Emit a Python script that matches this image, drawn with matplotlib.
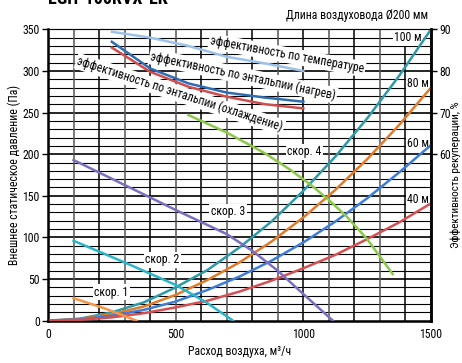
import matplotlib
matplotlib.use("Agg")
import matplotlib.pyplot as plt
from matplotlib import font_manager

# pick a narrow font if one is installed
narrow = 'DejaVu Sans'
for name in ['Liberation Sans Narrow', 'DejaVu Sans Condensed', 'Roboto Condensed',
             'Open Sans Condensed', 'Noto Sans Condensed', 'Liberation Sans']:
    try:
        font_manager.findfont(font_manager.FontProperties(family=name),
                              fallback_to_default=False)
        narrow = name
        break
    except ValueError:
        pass
plt.rcParams['font.family'] = [narrow, 'DejaVu Sans']

# duct length curves (Pa vs m3/h)
duct_q = [0, 125, 250, 375, 500, 625, 750, 875, 1000, 1125, 1250, 1375, 1500]
duct_100 = [0, 2.5, 10, 22, 40, 61, 88, 119, 156, 197, 243, 294, 350]
duct_80 = [0, 2, 8, 17, 31, 49, 70, 95, 124, 157, 194, 235, 280]
duct_60 = [0, 1.5, 6, 13, 23, 37, 53, 72, 94, 119, 147, 178, 211]
duct_40 = [0, 1, 4, 9, 16, 24, 35, 48, 63, 79, 98, 118, 141]

# fan speed curves
sp1_q = [100, 220, 347]
sp1_p = [27, 15, 0]
sp2_q = [100, 300, 500, 620, 725]
sp2_p = [96, 70, 43, 22, 0]
sp3_q = [100, 300, 500, 700, 800, 900, 1000, 1116]
sp3_p = [193, 163, 133, 104, 84, 60, 32, 0]
sp4_q = [550, 700, 850, 950, 1030, 1100, 1170, 1250, 1350]
sp4_p = [247, 226, 201, 181, 163, 145, 125, 98, 56]

# recovery efficiency (%)
eff_q = [250, 400, 550, 700, 850, 1000]
eff_temp = [89.4, 88.0, 86.0, 83.4, 81.8, 80.0]
eff_heat = [87.0, 80.6, 77.0, 74.8, 73.6, 72.6]
eff_cool = [85.6, 79.8, 76.2, 73.8, 72.0, 71.0]

fig = plt.figure(figsize=(4.62, 3.63), dpi=100)
ax = fig.add_axes([0.1039, 0.1165, 0.829, 0.8028])
ax.set_xlim(0, 1500)
ax.set_ylim(0, 350)

for y in range(10, 350, 10):
    ax.axhline(y, color='black', lw=1.2 if y % 50 == 0 else 0.8, zorder=1)
for i, x in enumerate(range(100, 1500, 100)):
    ax.axvline(x, color='black' if i % 2 == 1 else '#555555', lw=1.1, zorder=1)

lw = 1.8
ax.plot(duct_q, duct_100, color='#2e9aa8', lw=lw, zorder=10)
ax.plot(duct_q, duct_80, color='#e07b2a', lw=lw, zorder=10)
ax.plot(duct_q, duct_60, color='#3b7dd8', lw=lw, zorder=10)
ax.plot(duct_q, duct_40, color='#d64f52', lw=lw, zorder=10)

ax.plot(sp1_q, sp1_p, color='#f79646', lw=lw, zorder=10)
ax.plot(sp2_q, sp2_p, color='#2cb5c8', lw=lw, zorder=10)
ax.plot(sp3_q, sp3_p, color='#7b6fc0', lw=lw, zorder=10)
ax.plot(sp4_q, sp4_p, color='#8cc84b', lw=lw, zorder=10)

box = dict(facecolor='white', edgecolor='none', pad=1.0)
fs = 8.5
for txt, x, y in [('100 м', 1410, 340), ('80 м', 1449, 285),
                  ('60 м', 1449, 213), ('40 м', 1449, 145)]:
    ax.text(x, y, txt, fontsize=fs, ha='center', va='center', bbox=box, zorder=5)
for txt, x, y in [('скор. 4', 1003, 203), ('скор. 3', 705, 131),
                  ('скор. 2', 447, 73), ('скор. 1', 247, 34)]:
    ax.text(x, y, txt, fontsize=fs, ha='center', va='center', bbox=box, zorder=5)

ax.set_xticks([0, 500, 1000, 1500])
ax.set_yticks(range(0, 351, 50))
ax.tick_params(axis='x', length=0, labelsize=fs, pad=5)
ax.tick_params(axis='y', length=4, width=1, labelsize=fs, pad=2)
for s in ['left', 'bottom', 'right']:
    ax.spines[s].set_linewidth(1.8)
ax.spines['top'].set_color('#666666')
ax.set_xlabel('Расход воздуха, м³/ч', fontsize=fs, labelpad=3)
ax.set_ylabel('Внешнее статическое давление (Па)', fontsize=fs, labelpad=1)

ax2 = ax.twinx()
ax2.set_ylim(20, 90)
ax2.set_yticks([60, 70, 80, 90])
ax2.tick_params(axis='y', length=4, width=1, labelsize=fs, pad=2)
ax2.spines['right'].set_linewidth(1.8)
ax2.plot(eff_q, eff_temp, color='#9cc2e8', lw=lw, zorder=3)
ax2.plot(eff_q, eff_heat, color='#2e6db4', lw=lw, zorder=3)
ax2.plot(eff_q, eff_cool, color='#cf4d4d', lw=lw, zorder=3)
ax2.set_ylabel('Эффективность рекуперации, %', fontsize=8, labelpad=0)

# efficiency labels go on the upper axes so they cover the lines
for txt, x, y, rot in [('эффективность по температуре', 936, 319, -10.5),
                       ('эффективность по энтальпии (нагрев)', 764, 294, -12),
                       ('эффективность по энтальпии (охлаждение)', 517, 272, -18)]:
    ax2.text(x, y, txt, transform=ax.transData, fontsize=fs, rotation=rot,
             ha='center', va='center', bbox=box, zorder=6, rotation_mode='anchor')

fig.text(428 / 462, 1 - 16 / 363, 'Длина воздуховода Ø200 мм', fontsize=fs,
         ha='right', va='center')
fig.text(48 / 462, 1 - 4.5 / 363, 'EGH-100RVX-EK', fontsize=13, fontweight='bold',
         ha='left', va='baseline')

fig.savefig('out.png', dpi=100)
